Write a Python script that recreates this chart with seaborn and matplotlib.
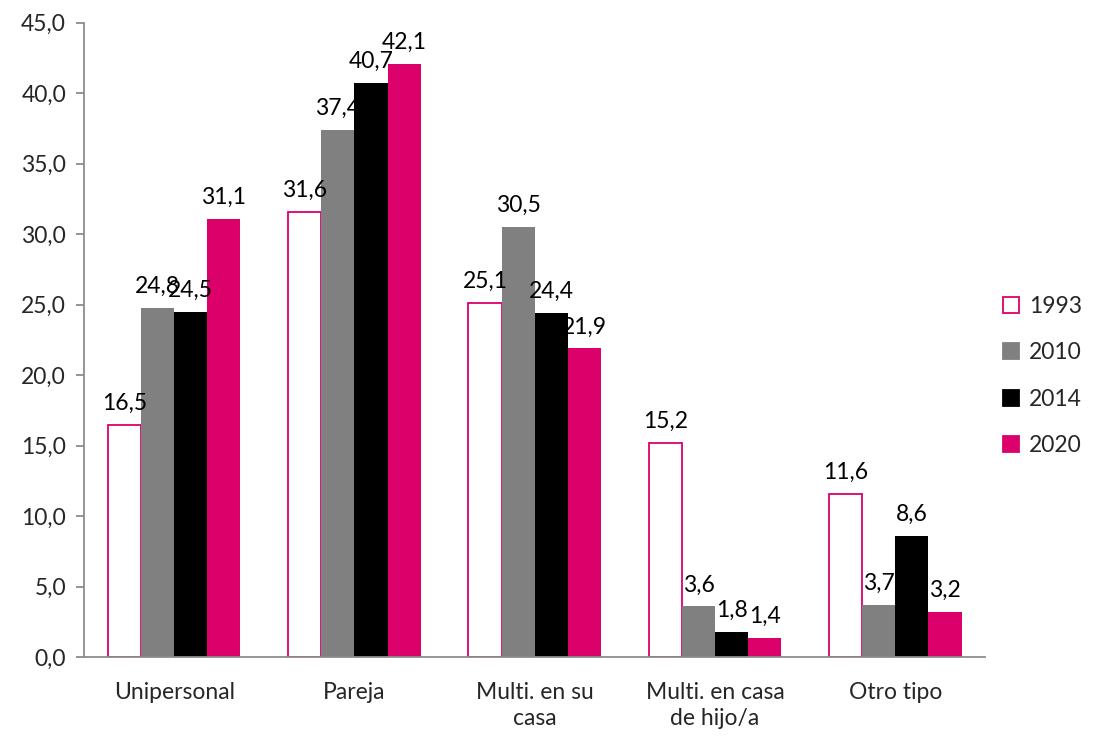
import matplotlib
matplotlib.use("Agg")
import matplotlib.pyplot as plt
import seaborn as sns
import pandas as pd
from matplotlib.patches import Patch

categories = ["Unipersonal", "Pareja", "Multi. en su\ncasa", "Multi. en casa\nde hijo/a", "Otro tipo"]
years = ["1993", "2010", "2014", "2020"]
v1993 = [16.5, 31.6, 25.1, 15.2, 11.6]
v2010 = [24.8, 37.4, 30.5, 3.6, 3.7]
v2014 = [24.5, 40.7, 24.4, 1.8, 8.6]
v2020 = [31.1, 42.1, 21.9, 1.4, 3.2]
y_ticks = [0, 5, 10, 15, 20, 25, 30, 35, 40, 45]

MAGENTA = "#DC006B"
colors = {"1993": "white", "2010": "#808080", "2014": "#000000", "2020": MAGENTA}

series = [v1993, v2010, v2014, v2020]
df = pd.DataFrame(
    [(c, y, v) for y, vals in zip(years, series) for c, v in zip(categories, vals)],
    columns=["tipo", "anio", "valor"],
)

sns.set_style("white")
plt.rcParams["font.family"] = ["Lato", "DejaVu Sans"]
FS = 16.5

fig = plt.figure(figsize=(11.06, 7.36), dpi=100)
ax = fig.add_axes([0.076, 0.107, 0.815, 0.862])

sns.barplot(
    data=df, x="tipo", y="valor", hue="anio", order=categories, hue_order=years,
    palette=colors, width=0.735, gap=0, errorbar=None, legend=False, ax=ax,
    saturation=1,
)

for year, cont in zip(years, ax.containers):
    for bar in cont:
        if year == "1993":
            bar.set_edgecolor(MAGENTA)
            bar.set_linewidth(1.3)
        else:
            bar.set_edgecolor("none")
    ax.bar_label(cont, labels=[f"{b.get_height():.1f}".replace(".", ",") for b in cont],
                 padding=8, fontsize=FS, color="black")

ax.set_ylim(0, 45)
ax.set_yticks(y_ticks)
ax.set_yticklabels([f"{t:.1f}".replace(".", ",") for t in y_ticks], fontsize=FS)
ax.set_xlim(-0.5, len(categories) - 0.5)
ax.set_xlabel("")
ax.set_ylabel("")
ax.tick_params(axis="x", which="major", length=0, labelsize=FS, pad=18)
ax.set_xticks([i - 0.5 for i in range(len(categories) + 1)], minor=True)
ax.tick_params(axis="x", which="minor", length=6, width=1.3, color="#8c8c8c", direction="out")
ax.tick_params(axis="y", length=6, width=1.3, color="#8c8c8c", direction="out", left=True, pad=7)
for lbl in ax.get_xticklabels():
    lbl.set_linespacing(1.3)

for side in ["top", "right"]:
    ax.spines[side].set_visible(False)
for side in ["left", "bottom"]:
    ax.spines[side].set_color("#8c8c8c")
    ax.spines[side].set_linewidth(1.3)

handles = [
    Patch(facecolor=colors[y], edgecolor=MAGENTA if y == "1993" else colors[y], linewidth=1.3)
    for y in years
]
fig.legend(handles, years, loc="center left", bbox_to_anchor=(0.888, 0.489), frameon=False,
           fontsize=FS, handlelength=0.7, handleheight=0.7, handletextpad=0.45,
           labelspacing=1.1)

fig.savefig("out.png", dpi=100)
